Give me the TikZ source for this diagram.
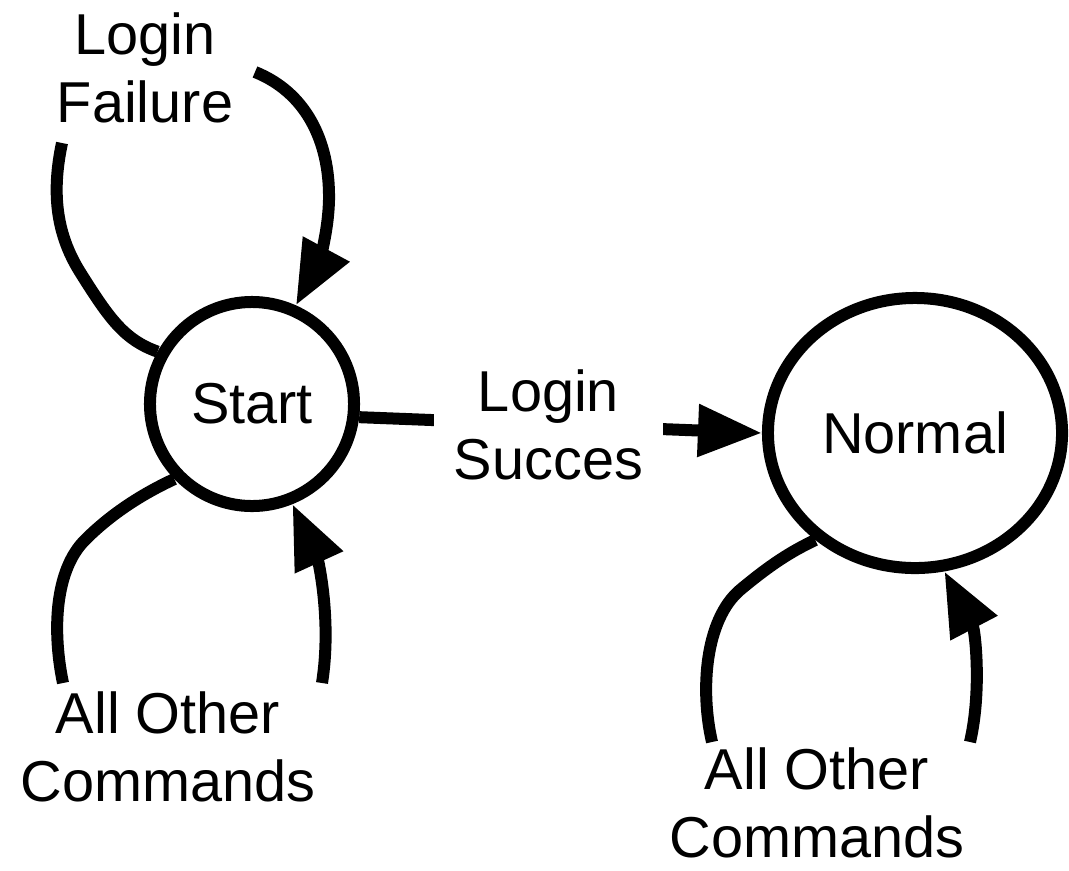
\documentclass[tikz,border=0pt]{standalone}
\usepackage{fontspec}
\setmainfont{Liberation Sans}
\usetikzlibrary{arrows.meta,shapes.geometric}

\begin{document}
\begin{tikzpicture}[x=0.025cm,y=-0.025cm,
		state/.style={draw,line width=0.3cm,minimum size=5.1cm,inner sep=0pt,font=\fontsize{41}{48.5}\selectfont},
		txt/.style={align=center,inner sep=0pt,font=\fontsize{41}{48.5}\selectfont},
		wire/.style={line width=0.3cm},
		tip/.style={wire,-{Triangle[length=1.6cm,width=1.25cm]}}]
		\useasboundingbox (0,0) rectangle (1069,870);
		% states
		\node[state,circle] (start) at (252,404) {Start};
		\node[state,ellipse,minimum width=7.35cm,minimum height=6.75cm] (normal) at (915,433) {Normal};
		% loop labels
		\node[txt] (fail) at (145,68) {Login\\Failure};
		\node[txt] (other1) at (168,747) {All Other\\Commands};
		\node[txt] (other2) at (817,803) {All Other\\Commands};
		% loose ends next to the labels
		\coordinate (failin) at (62,143);
		\coordinate (failout) at (255,72);
		\coordinate (other1a) at (63,683);
		\coordinate (other1b) at (322,683);
		\coordinate (other2a) at (712,742);
		\coordinate (other2b) at (970,742);
		% login failure
		\draw[wire] (start.151) .. controls (125,340) and (110,320) .. (80,272) .. controls (55,232) and (52,190) .. (failin);
		\draw[tip] (failout) .. controls (305,92) and (330,140) .. (329,200) .. controls (328,240) and (315,270) .. (start.66);
		% login succes
		\draw[tip] (start.-7) -- node[txt,fill=white,inner xsep=0.5cm,inner ysep=0.2cm,pos=0.47] (succ) {Login\\Succes} (normal.west);
		% other commands at start
		\draw[wire] (start.224) .. controls (140,495) and (110,515) .. (85,540) .. controls (55,570) and (52,630) .. (other1a);
		\draw[tip] (other1b) .. controls (332,620) and (318,560) .. (start.292);
		% other commands at normal
		\draw[wire] (normal.227) .. controls (790,552) and (770,565) .. (740,590) .. controls (705,620) and (700,690) .. (other2a);
		\draw[tip] (other2b) .. controls (982,690) and (975,630) .. (normal.282);
	\end{tikzpicture}
\end{document}
